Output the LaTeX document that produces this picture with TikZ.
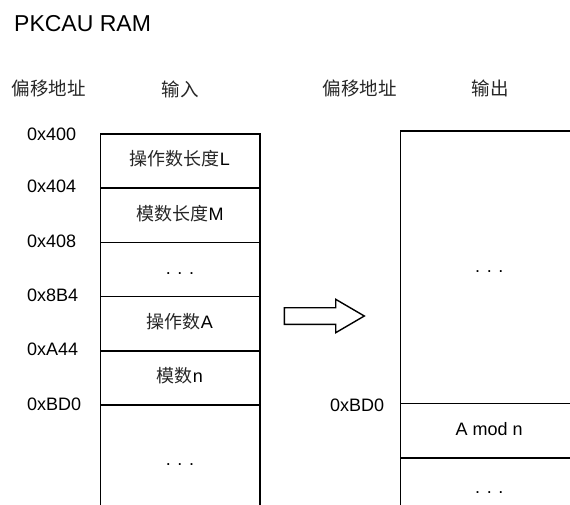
\documentclass[tikz,border=0pt]{standalone}
\usepackage{fontspec}
\setmainfont{Liberation Sans}
\newfontfamily\cjk{Noto Sans CJK SC}
\begin{document}
\begin{tikzpicture}[x=1pt,y=-1pt,
  cellbox/.style={draw, line width=1.5pt, inner sep=0pt, anchor=north west,
    text height=13pt, text depth=3pt, font=\fontsize{18}{20}\selectfont},
  lcell/.style={cellbox, minimum width=159.5pt},
  rcell/.style={cellbox, minimum width=178pt},
  addr/.style={inner sep=0pt, anchor=west, font=\fontsize{18}{20}\selectfont},
  hdr/.style={inner sep=0pt, font=\fontsize{18.5}{20}\selectfont\cjk, text=black!85}]
\useasboundingbox (0,0) rectangle (570,504);
\clip (0,0) rectangle (570,504);

\node[inner sep=0pt, anchor=west, font=\fontsize{23}{25}\selectfont] (title) at (14,23.5) {PKCAU RAM};

\node[hdr] (hAddrL) at (48.5,88.5) {偏移地址};
\node[hdr] (hIn) at (180,89) {输入};
\node[hdr] (hAddrR) at (359.7,88.3) {偏移地址};
\node[hdr] (hOut) at (490,88.3) {输出};

% left column (input)
\node[lcell, minimum height=54.25pt] (L1) at (99.5,133) {{\cjk\color{black!85}操作数长度}L};
\node[lcell, minimum height=54.25pt] (L2) at (99.5,187.25) {{\cjk\color{black!85}模数长度}M};
\node[lcell, minimum height=54.25pt] (L3) at (99.5,241.5) {. . .};
\node[lcell, minimum height=54.25pt] (L4) at (99.5,295.75) {{\cjk\color{black!85}操作数}A};
\node[lcell, minimum height=54.25pt] (L5) at (99.5,350) {{\cjk\color{black!85}模数}n};
\node[lcell, minimum height=110pt] (L6) at (99.5,404.25) {. . .};

\node[addr] (a400) at (27,134.5) {0x400};
\node[addr] (a404) at (27,186.5) {0x404};
\node[addr] (a408) at (27,241) {0x408};
\node[addr] (a8B4) at (27,295) {0x8B4};
\node[addr] (aA44) at (27,349.5) {0xA44};
\node[addr] (aBD0) at (27,404.5) {0xBD0};

% right column (output)
\node[rcell, minimum height=272.5pt] (R1) at (399.5,130) {. . .};
\node[rcell, minimum height=54.5pt] (R2) at (399.5,402.5) {A mod n};
\node[rcell, minimum height=61pt] (R3) at (399.5,457) {. . .};

\node[addr] (bBD0) at (330,405) {0xBD0};

% block arrow
\draw[line width=1.4pt, line join=miter]
  (284.3,307.7) -- (335.7,307.7) -- (335.7,299.3) -- (364.3,316) --
  (335.7,332.7) -- (335.7,324.3) -- (284.3,324.3) -- cycle;
\end{tikzpicture}
\end{document}
